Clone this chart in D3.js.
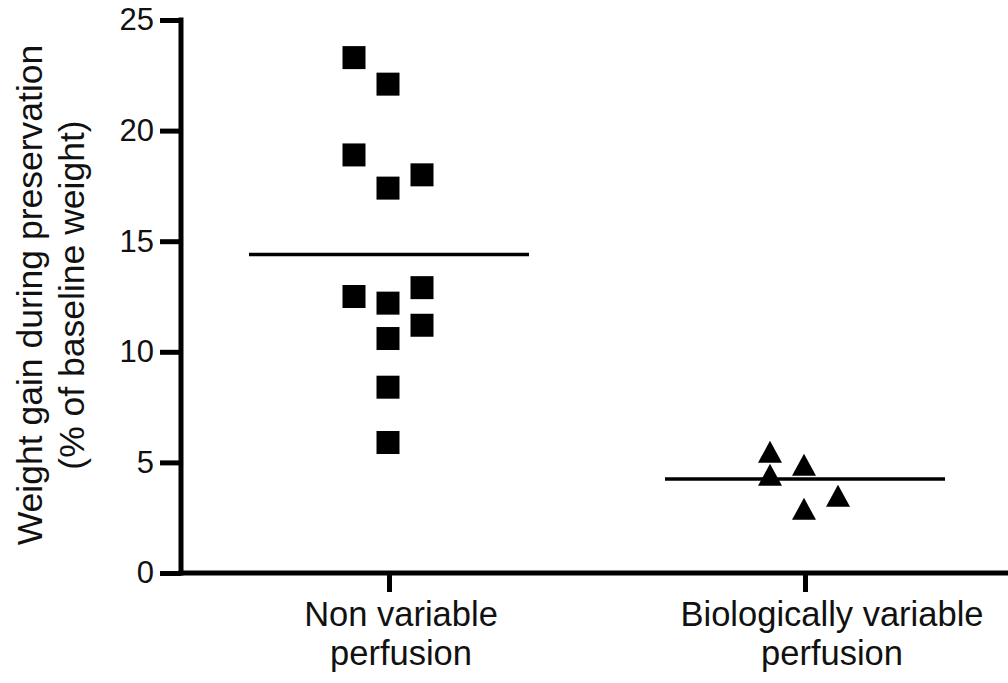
<!DOCTYPE html>
<html>
<head>
<meta charset="utf-8">
<script src="https://cdn.jsdelivr.net/npm/d3@7"></script>
<style>
  body { margin: 0; background: #fff; }
  text { font-family: "Liberation Sans", Arial, sans-serif; fill: #111; }
</style>
</head>
<body>
<script>
// data
var groups = ['Non variable perfusion', 'Biologically variable perfusion'];
var groupLines = [['Non variable', 'perfusion'], ['Biologically variable', 'perfusion']];
var yTicks = [0, 5, 10, 15, 20, 25];

// non variable: offset column (-1, 0, 1) and value
var nvCol = [-1, 0, -1, 0, 1, -1, 0, 1, 1, 0, 0, 0];
var nvVal = [23.3, 22.1, 18.9, 17.4, 18.0, 12.5, 12.2, 12.9, 11.2, 10.6, 8.4, 5.9];
// biologically variable
var bvCol = [-1, -1, 0, 0, 1];
var bvVal = [5.48, 4.44, 4.89, 2.9, 3.49];

var means = [14.4, 4.25];

var width = 1008, height = 683;
var svg = d3.select('body').append('svg')
  .attr('width', width)
  .attr('height', height);

var y = d3.scaleLinear().domain([0, 25]).range([573, 20]);
var x = d3.scalePoint().domain(groups).range([389, 805]);
var colStep = 34;

// y axis
var yAxis = svg.append('g')
  .attr('transform', 'translate(181,0)')
  .call(d3.axisLeft(y).tickValues(yTicks).tickSize(21).tickPadding(6));
yAxis.select('.domain').attr('stroke', '#000').attr('stroke-width', 5)
  .attr('d', 'M0,' + (y(25) - 2.5) + 'V' + (y(0) + 2.5));
yAxis.selectAll('.tick line').attr('stroke', '#000').attr('stroke-width', 5);
yAxis.selectAll('.tick text').style('font-size', '31px').attr('fill', '#111');

// x axis
var xAxis = svg.append('g')
  .attr('transform', 'translate(0,' + y(0) + ')')
  .call(d3.axisBottom(x).tickSize(19).tickFormat(''));
xAxis.select('.domain').attr('stroke', '#000').attr('stroke-width', 5)
  .attr('d', 'M178.5,0H1008');
xAxis.selectAll('.tick line').attr('stroke', '#000').attr('stroke-width', 5);

// category labels (sit a little right of their ticks)
var labelShift = [12, 27];
groups.forEach(function(g, i) {
  var cx = x(g) + labelShift[i];
  var t = svg.append('text')
    .attr('x', cx)
    .attr('y', 626)
    .attr('text-anchor', 'middle')
    .style('font-size', '34.5px');
  groupLines[i].forEach(function(line, j) {
    t.append('tspan').attr('x', cx).attr('dy', j ? 39 : 0).text(line);
  });
});

// y label
var yl = svg.append('text')
  .attr('transform', 'translate(0,295) rotate(-90)')
  .attr('text-anchor', 'middle')
  .style('font-size', '35.5px');
yl.append('tspan').attr('x', 0).attr('y', 42).text('Weight gain during preservation');
yl.append('tspan').attr('x', 0).attr('y', 84).text('(% of baseline weight)');

// mean lines
svg.selectAll('.mean')
  .data(means)
  .enter()
  .append('line')
    .attr('class', 'mean')
    .attr('x1', function(d, i) { return x(groups[i]) - 140; })
    .attr('x2', function(d, i) { return x(groups[i]) + 140; })
    .attr('y1', function(d) { return y(d); })
    .attr('y2', function(d) { return y(d); })
    .attr('stroke', '#000')
    .attr('stroke-width', 3.5);

// squares
var sq = d3.symbol().type(d3.symbolSquare).size(23 * 23);
svg.selectAll('.sq')
  .data(nvVal)
  .enter()
  .append('path')
    .attr('class', 'sq')
    .attr('d', sq)
    .attr('transform', function(d, i) {
      return 'translate(' + (x(groups[0]) + nvCol[i] * colStep - 1) + ',' + y(d) + ')';
    })
    .attr('fill', '#000');

// triangles, centred on their bounding box
var triShape = {
  draw: function(ctx) {
    ctx.moveTo(0, -11);
    ctx.lineTo(12, 11);
    ctx.lineTo(-12, 11);
    ctx.closePath();
  }
};
svg.selectAll('.tri')
  .data(bvVal)
  .enter()
  .append('path')
    .attr('class', 'tri')
    .attr('d', d3.symbol().type(triShape))
    .attr('transform', function(d, i) {
      return 'translate(' + (x(groups[1]) + bvCol[i] * colStep - 1) + ',' + y(d) + ')';
    })
    .attr('fill', '#000');
</script>
</body>
</html>
